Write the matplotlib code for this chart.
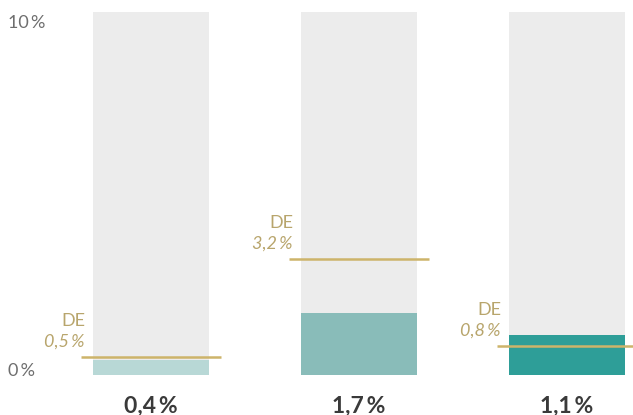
import matplotlib.pyplot as plt

# values in percent
categories = ['A', 'B', 'C']
values = [0.4, 1.7, 1.1]
de_values = [0.5, 3.2, 0.8]
value_labels = ['0,4\u2009%', '1,7\u2009%', '1,1\u2009%']
de_labels = ['0,5\u2009%', '3,2\u2009%', '0,8\u2009%']
tick_vals = [0, 10]
tick_labels = ['0\u2009%', '10\u2009%']

bar_colors = ['#b8d8d6', '#89bcb9', '#2e9e98']
bg_color = '#ececec'
gold_line = '#cdb46a'
gold_text = '#b8a56c'

plt.rcParams['font.family'] = ['Lato', 'DejaVu Sans']

fig = plt.figure(figsize=(6.33, 4.15), dpi=100)
ax = fig.add_axes([0, 40 / 415, 1, 363 / 415])
ax.set_xlim(-151 / 208, (633 - 151) / 208)
ax.set_ylim(0, 10)
ax.axis('off')

w = 116 / 208
ext = 12 / 208
xs = list(range(len(categories)))

# grey background columns
ax.bar(xs, [10] * len(xs), width=w, color=bg_color, zorder=1)
# actual values
ax.bar(xs, values, width=w, color=bar_colors, zorder=2)

for x, v, lab, de, dl in zip(xs, values, value_labels, de_values, de_labels):
    ax.hlines(de, x - w / 2 - ext, x + w / 2 + ext, color=gold_line, lw=1.8, zorder=3)
    tx = x - w / 2 - ext + 4 / 208
    ax.annotate('DE', (tx, de), xytext=(0, 22), textcoords='offset points',
                ha='right', va='baseline', fontsize=13, color=gold_text)
    ax.annotate(dl, (tx, de), xytext=(0, 7.5), textcoords='offset points',
                ha='right', va='baseline', fontsize=13, color=gold_text, style='italic')
    ax.annotate(lab, (x, 0), xytext=(0, -27), textcoords='offset points',
                ha='center', va='baseline', fontsize=16.5, fontweight='bold',
                color='#3a3a3a', annotation_clip=False)

# y labels at the left
tick_x = (8 - 151) / 208
ax.text(tick_x, 9.56, tick_labels[1], ha='left', va='baseline', fontsize=13,
        color='#6e6e6e')
ax.text(tick_x, -0.03, tick_labels[0], ha='left', va='baseline', fontsize=13,
        color='#6e6e6e')

fig.savefig('out.png', dpi=100)
